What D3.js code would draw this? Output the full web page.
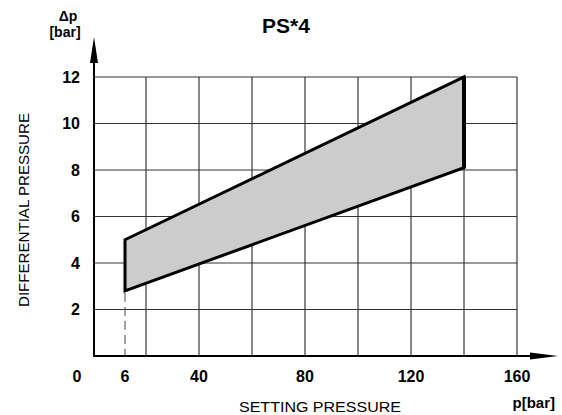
<!DOCTYPE html>
<html>
<head>
<meta charset="utf-8">
<script src="https://d3js.org/d3.v7.min.js"></script>
<style>
  body { margin: 0; background: #fff; }
  text { font-family: "Liberation Sans", Arial, sans-serif; fill: #000; }
</style>
</head>
<body>
<script>
// data
var xTickLabels = [0, 6, 40, 80, 120, 160];
var xGridValues = [20, 40, 60, 80, 100, 120, 140, 160];
var yTickLabels = [2, 4, 6, 8, 10, 12];
var upperLimit = [{p: 6, dp: 5.0}, {p: 140, dp: 12.0}];
var lowerLimit = [{p: 6, dp: 2.8}, {p: 140, dp: 8.1}];

var width = 562, height = 415;

var svg = d3.select("body").append("svg")
    .attr("width", width)
    .attr("height", height);

// the drawing is schematic: 6 bar sits further right than a linear scale would put it
var x = d3.scaleLinear()
    .domain([0, 6, 20, 160])
    .range([94, 125, 146, 517]);

var y = d3.scaleLinear()
    .domain([0, 12])
    .range([356, 77]);

// grid
svg.append("g").selectAll("line.v")
    .data(xGridValues)
    .enter().append("line")
    .attr("x1", function(d) { return x(d); })
    .attr("x2", function(d) { return x(d); })
    .attr("y1", y(0))
    .attr("y2", y(12))
    .attr("stroke", "#111")
    .attr("stroke-width", 1);

svg.append("g").selectAll("line.h")
    .data(yTickLabels)
    .enter().append("line")
    .attr("x1", x(0))
    .attr("x2", x(160))
    .attr("y1", function(d) { return y(d); })
    .attr("y2", function(d) { return y(d); })
    .attr("stroke", "#333")
    .attr("stroke-width", 1);

// band between the two limits
var band = upperLimit.concat(lowerLimit.slice().reverse());
svg.append("path")
    .datum(band)
    .attr("d", d3.line()
        .x(function(d) { return x(d.p); })
        .y(function(d) { return y(d.dp); })
        .curve(d3.curveLinearClosed))
    .attr("fill", "#cccccc")
    .attr("stroke", "#000")
    .attr("stroke-width", 3)
    .attr("stroke-linejoin", "miter");

// heavier right edge
svg.append("line")
    .attr("x1", x(upperLimit[1].p))
    .attr("x2", x(lowerLimit[1].p))
    .attr("y1", y(upperLimit[1].dp))
    .attr("y2", y(lowerLimit[1].dp))
    .attr("stroke", "#000")
    .attr("stroke-width", 4);

// dashed drop line at 6 bar
svg.append("line")
    .attr("x1", x(6))
    .attr("x2", x(6))
    .attr("y1", y(lowerLimit[0].dp) + 2)
    .attr("y2", y(0))
    .attr("stroke", "#444")
    .attr("stroke-width", 1)
    .attr("stroke-dasharray", "9,5");

// axes with arrows
svg.append("line")
    .attr("x1", x(0) - 1).attr("x2", 532)
    .attr("y1", y(0)).attr("y2", y(0))
    .attr("stroke", "#000").attr("stroke-width", 2);
svg.append("path")
    .attr("d", "M530," + (y(0) - 3.5) + " L558," + y(0) + " L530," + (y(0) + 3.5) + " Z")
    .attr("fill", "#000");

svg.append("line")
    .attr("x1", x(0)).attr("x2", x(0))
    .attr("y1", y(0) + 1).attr("y2", 60)
    .attr("stroke", "#000").attr("stroke-width", 2);
svg.append("path")
    .attr("d", "M" + (x(0) - 4) + ",63 L" + x(0) + ",37 L" + (x(0) + 4) + ",63 Z")
    .attr("fill", "#000");

// tick labels
svg.append("g").selectAll("text")
    .data(yTickLabels)
    .enter().append("text")
    .attr("x", 80)
    .attr("y", function(d) { return y(d); })
    .attr("dy", "0.36em")
    .attr("text-anchor", "end")
    .style("font-size", "16px")
    .style("font-weight", "bold")
    .text(function(d) { return d; });

svg.append("g").selectAll("text")
    .data(xTickLabels)
    .enter().append("text")
    .attr("x", function(d) { return d === 0 ? x(d) - 17 : x(d); })
    .attr("y", 382)
    .attr("text-anchor", "middle")
    .style("font-size", "16px")
    .style("font-weight", "bold")
    .text(function(d) { return d; });

// titles
svg.append("text")
    .attr("x", 286).attr("y", 33)
    .attr("text-anchor", "middle")
    .style("font-size", "21px").style("font-weight", "bold")
    .text("PS*4");

svg.append("text")
    .attr("x", 68).attr("y", 21)
    .attr("text-anchor", "middle")
    .style("font-size", "14px").style("font-weight", "bold")
    .text("\u0394p");
svg.append("text")
    .attr("x", 65).attr("y", 37)
    .attr("text-anchor", "middle")
    .style("font-size", "14px").style("font-weight", "bold")
    .text("[bar]");

svg.append("text")
    .attr("x", 555).attr("y", 408)
    .attr("text-anchor", "end")
    .style("font-size", "15px").style("font-weight", "bold")
    .text("p[bar]");

svg.append("text")
    .attr("x", 239).attr("y", 412)
    .attr("textLength", 162)
    .attr("lengthAdjust", "spacingAndGlyphs")
    .style("font-size", "15px")
    .text("SETTING PRESSURE");

svg.append("text")
    .attr("transform", "translate(29,307) rotate(-90)")
    .attr("textLength", 194)
    .attr("lengthAdjust", "spacingAndGlyphs")
    .style("font-size", "14px")
    .text("DIFFERENTIAL PRESSURE");
</script>
</body>
</html>
